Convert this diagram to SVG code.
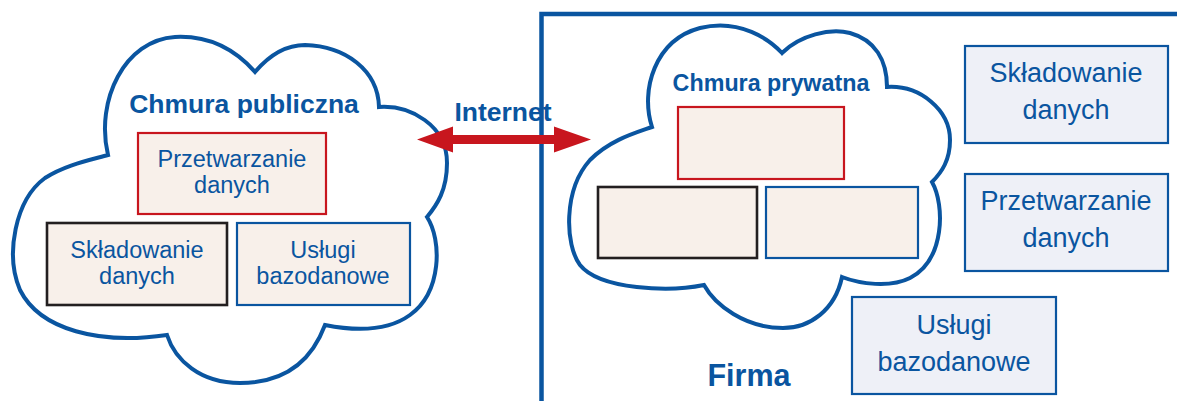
<svg xmlns="http://www.w3.org/2000/svg" width="1177" height="401" viewBox="0 0 1177 401">
<style>
.cloud{fill:#fff;stroke:#0a55a0;stroke-width:4;stroke-linejoin:miter}
.box{fill:#f8f0ea;stroke-width:2.2}
.red{stroke:#c8161e}
.blk{stroke:#231f20;stroke-width:2.6}
.blu{stroke:#0a55a0}
.rbox{fill:#eef0f7;stroke:#0a55a0;stroke-width:2.2}
text{font-family:"Liberation Sans",Arial,sans-serif;fill:#0a55a0;text-anchor:middle}
.title{font-weight:bold}
.lbl{font-size:23.5px}
.rlbl{font-size:27px}
</style>
<rect width="1177" height="401" fill="#fff"/>
<g id="firma">
<path d="M541.5,401 V14 H1177" fill="none" stroke="#0a55a0" stroke-width="4.5"/>
<text class="title" x="749" y="386" font-size="30.5">Firma</text>
</g>
<g id="public-cloud">
<path class="cloud" d="M108,155 C95,100 125,40 175,37 C215,35 240,55 255,72 C272,52 290,45 305,45 C345,46 378,70 379,107 C410,105 447,125 447,163 C447,190 437,205 427,217 C442,240 442,292 410,315 C385,333 350,330 325,325 C310,365 280,383 240,383 C200,383 175,360 167,335 C100,345 40,330 20,290 C5,255 15,200 45,178 C65,165 90,160 108,155 Z"/>
<text class="title" x="244" y="113" font-size="26.5">Chmura publiczna</text>
</g>
<g id="pub-processing">
<rect class="box red" x="138" y="133" width="188" height="81"/>
<text class="lbl" x="232" y="167">Przetwarzanie</text>
<text class="lbl" x="232" y="193">danych</text>
</g>
<g id="pub-storage">
<rect class="box blk" x="47" y="223" width="180" height="82"/>
<text class="lbl" x="137" y="258">Składowanie</text>
<text class="lbl" x="137" y="284">danych</text>
</g>
<g id="pub-db">
<rect class="box blu" x="237" y="223" width="173" height="82"/>
<text class="lbl" x="323" y="258">Usługi</text>
<text class="lbl" x="323" y="284">bazodanowe</text>
</g>
<g id="private-cloud">
<path class="cloud" d="M652,127 C640,90 655,40 700,28 C740,18 770,40 782,53 C800,35 830,28 850,33 C875,40 887,60 887,87 C920,85 950,110 950,140 C950,160 942,172 932,182 C945,205 945,260 910,278 C890,288 860,284 842,277 C835,310 810,328 783,328 C745,328 715,305 704,285 C670,292 600,290 580,265 C565,245 563,190 590,160 C610,140 635,133 652,127 Z"/>
<text class="title" x="771" y="91" font-size="23.3">Chmura prywatna</text>
<rect class="box red" x="678" y="107" width="166" height="72"/>
<rect class="box blk" x="598" y="187" width="159" height="71"/>
<rect class="box blu" x="766" y="187" width="152" height="71"/>
</g>
<g id="firm-storage">
<rect class="rbox" x="965" y="46" width="203" height="97"/>
<text class="rlbl" x="1066" y="82">Składowanie</text>
<text class="rlbl" x="1066" y="119">danych</text>
</g>
<g id="firm-processing">
<rect class="rbox" x="965" y="174" width="203" height="97"/>
<text class="rlbl" x="1066" y="210">Przetwarzanie</text>
<text class="rlbl" x="1066" y="247">danych</text>
</g>
<g id="firm-db">
<rect class="rbox" x="852" y="297" width="204" height="97"/>
<text class="rlbl" x="954" y="334">Usługi</text>
<text class="rlbl" x="954" y="371">bazodanowe</text>
</g>
<g id="connectors">
<path d="M417,139.5 L453,126.5 V135 H554 V126.5 L591,139.5 L554,152.5 V144 H453 V152.5 Z" fill="#c8161e"/>
<text class="title" x="503" y="121" font-size="26.5">Internet</text>
</g>
</svg>
